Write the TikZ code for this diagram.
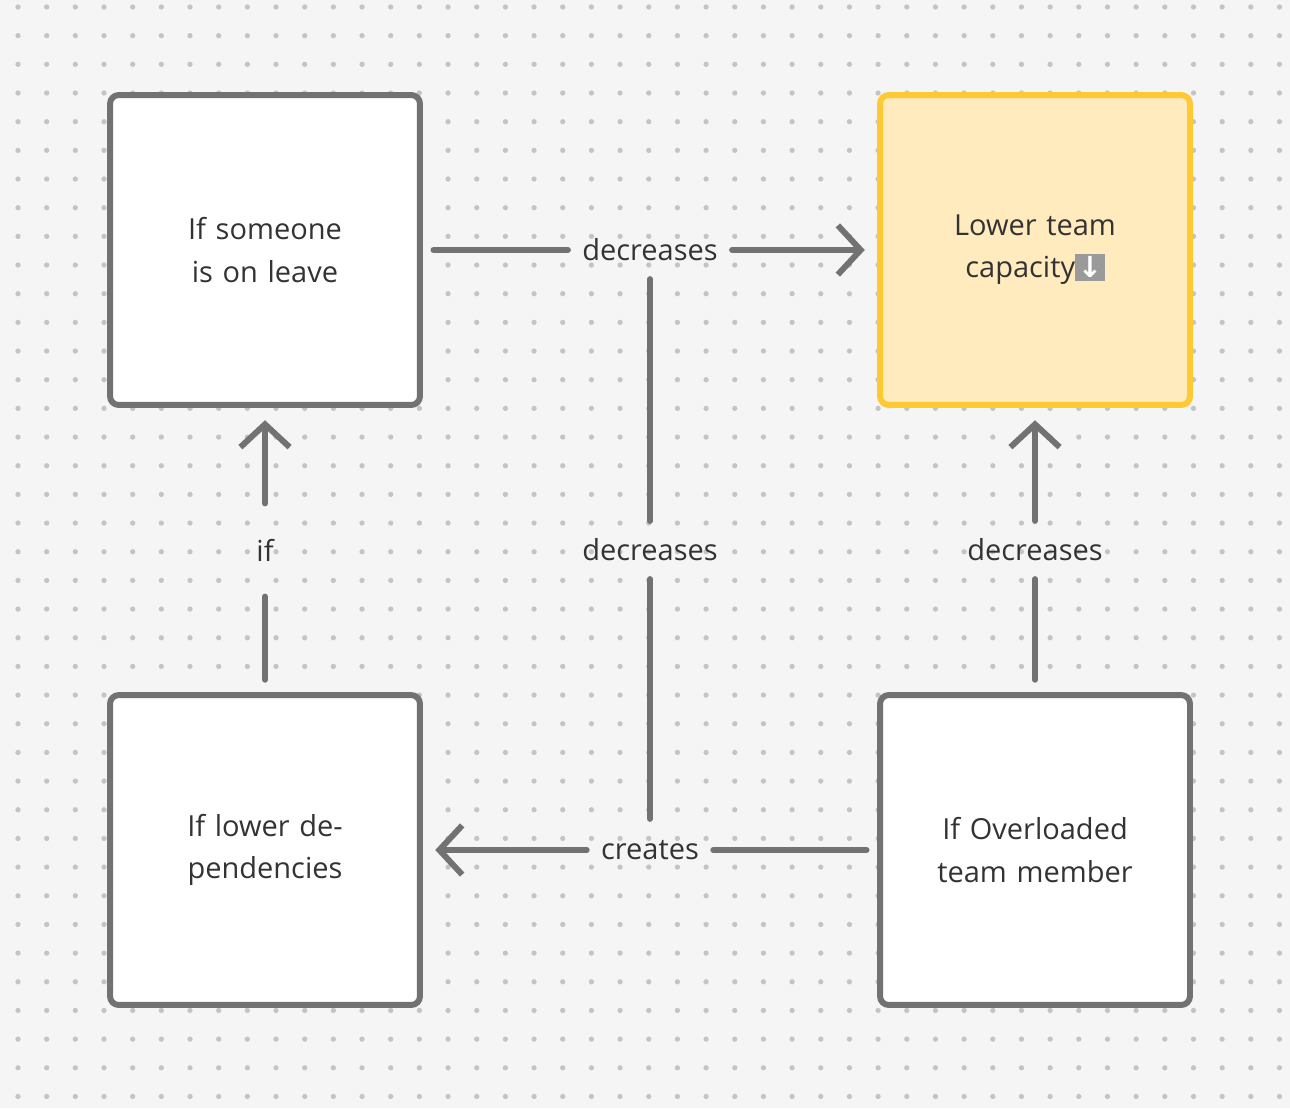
\documentclass[tikz,border=0pt]{standalone}
\usepackage{fontspec}
\setmainfont{Open Sans}
\newfontfamily\symfont{DejaVu Sans}
\usetikzlibrary{arrows.meta}
\definecolor{bgcol}{HTML}{F5F5F5}
\definecolor{dotcol}{HTML}{C4C4C4}
\definecolor{linecol}{HTML}{727272}
\definecolor{txtcol}{HTML}{333333}
\definecolor{yellowfill}{HTML}{FFEBBE}
\definecolor{yellowline}{HTML}{FFC933}
\definecolor{emojicol}{HTML}{9A9A9A}
\tikzset{
  card/.style={draw=linecol,line width=3.4pt,rounded corners=5pt,fill=white,
    minimum width=6.2cm,minimum height=6.2cm,text width=4.6cm,align=center,
    font=\fontsize{16.5}{24}\selectfont,text=txtcol},
  hot/.style={card,draw=yellowline,fill=yellowfill},
  lbl/.style={font=\fontsize{16.5}{19}\selectfont,text=txtcol,inner sep=0pt},
  link/.style={draw=linecol,line width=3.4pt,line cap=round},
  tip/.style={link,-{Straight Barb[length=13pt,width=28pt,line width=3.4pt]}}
}
\newcommand{\downemoji}{\setlength{\fboxsep}{1.5pt}\colorbox{emojicol}{\textcolor{white}{\symfont\bfseries ↓}}}
\begin{document}
\begin{tikzpicture}[x=0.02cm,y=-0.02cm]
  \fill[bgcol] (0,0) rectangle (1290,1108);
  \useasboundingbox (0,0) rectangle (1290,1108);
  \foreach \i in {0,...,44}{
    \foreach \j in {0,...,38}{
      \fill[dotcol] ({18+\i*28.67},{7+\j*28.67}) circle (1.5pt);
    }
  }

  %% cards
  \node[card] (leave) at (265,250) {If someone is on leave};
  \node[hot] (capacity) at (1035,250) {Lower team capacity\downemoji};
  \node[card] (deps) at (265,850) {If lower dependencies};
  \node[card] (overload) at (1035,850) {If Overloaded team member};

  %% labels
  \node[lbl] (dectop) at (650,250) {decreases};
  \node[lbl] (decmid) at (650,550) {decreases};
  \node[lbl] (decright) at (1035,550) {decreases};
  \node[lbl] (iflbl) at (265,550) {if};
  \node[lbl] (creates) at (650,850) {creates};

  %% connectors
  \draw[link,shorten <=6pt,shorten >=8pt] (leave) -- (dectop);
  \draw[tip,shorten <=8pt,shorten >=7pt] (dectop) -- (capacity);
  \draw[link,shorten <=7pt,shorten >=20pt] (deps) -- (iflbl);
  \draw[tip,shorten <=20pt,shorten >=7pt] (iflbl) -- (leave);
  \draw[link,shorten <=7pt,shorten >=10pt] (overload) -- (decright);
  \draw[tip,shorten <=10pt,shorten >=7pt] (decright) -- (capacity);
  \draw[link,shorten <=6pt,shorten >=8pt] (overload) -- (creates);
  \draw[tip,shorten <=8pt,shorten >=7pt] (creates) -- (deps);
  \draw[link,shorten <=10pt,shorten >=10pt] (dectop) -- (decmid);
  \draw[link,shorten <=10pt,shorten >=12pt] (decmid) -- (creates);
\end{tikzpicture}
\end{document}
